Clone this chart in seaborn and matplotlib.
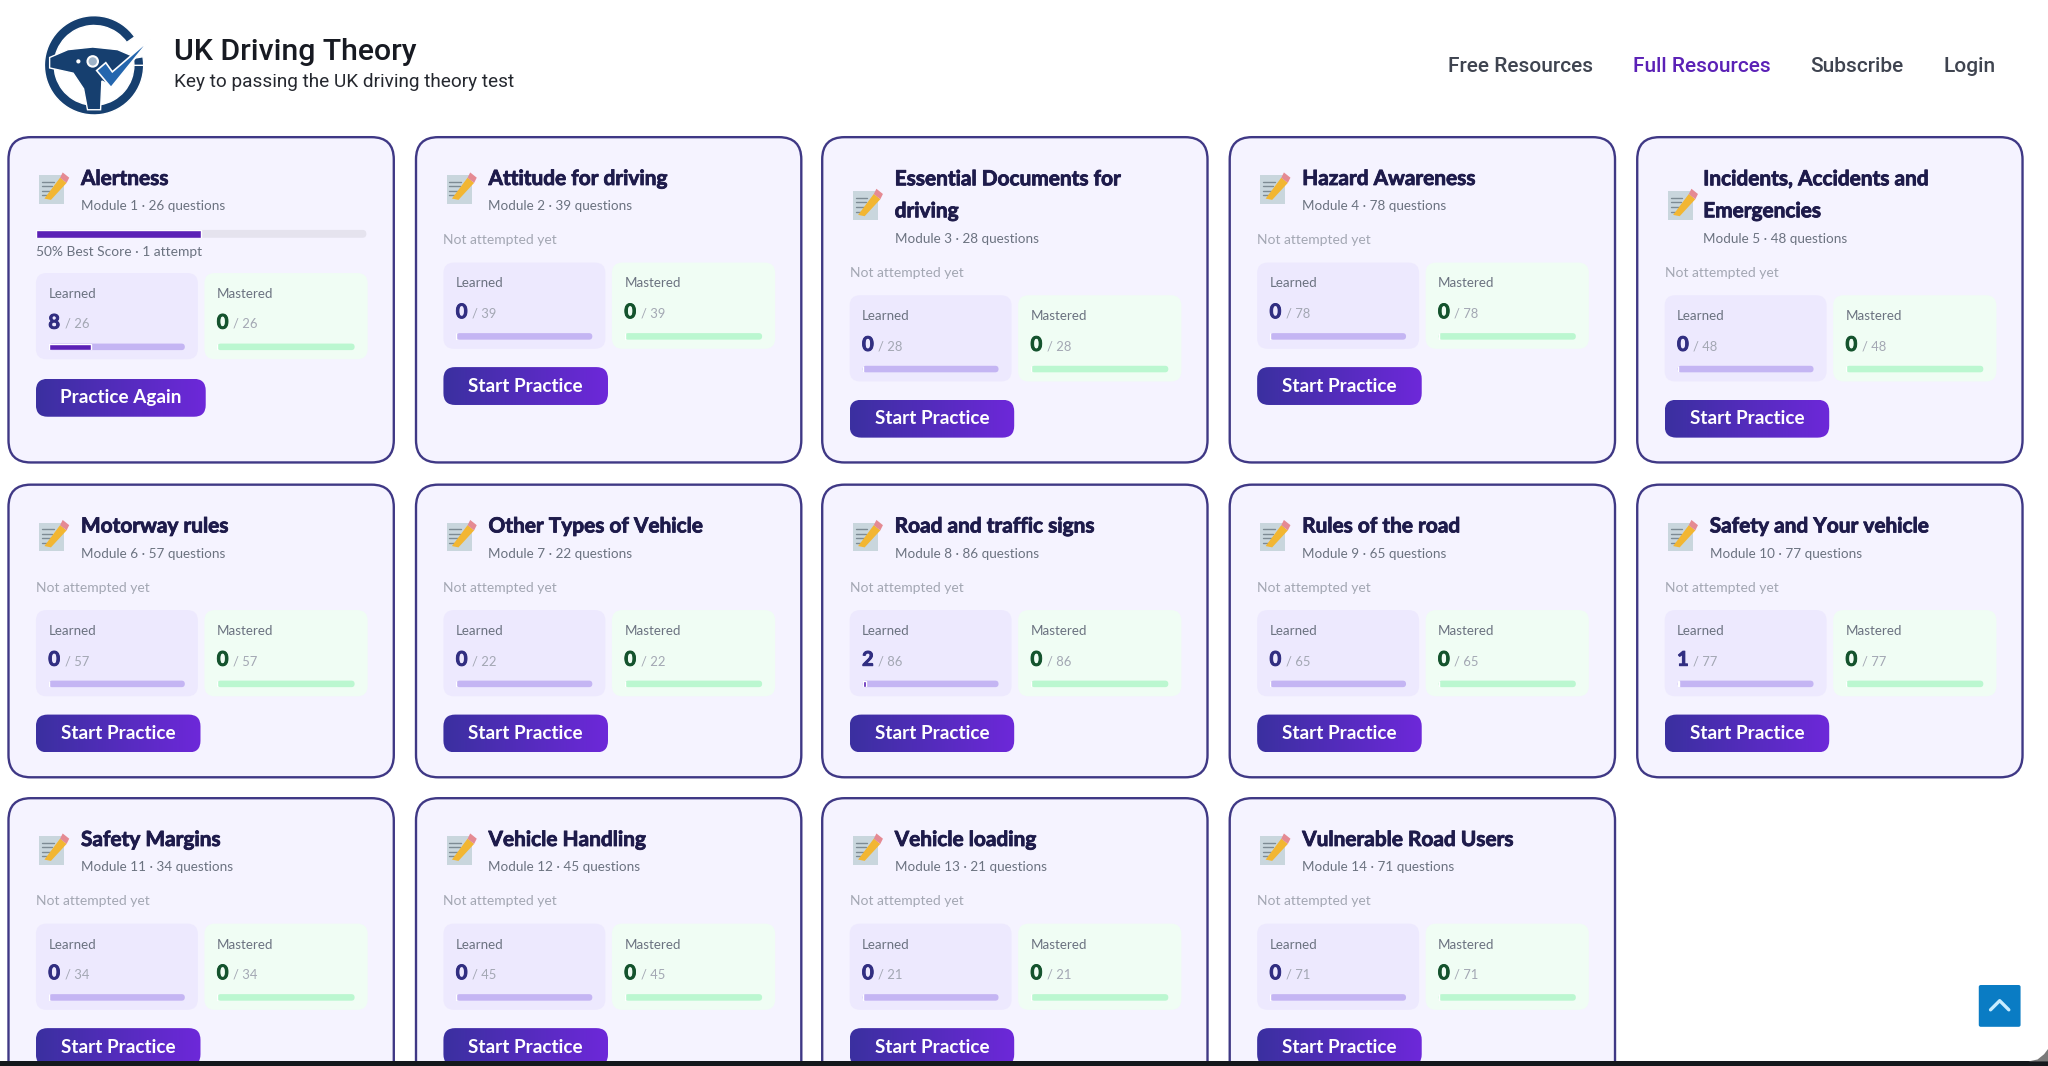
import matplotlib
matplotlib.use("Agg")
import matplotlib.pyplot as plt
import matplotlib.patheffects as pe
import seaborn as sns
import numpy as np
from matplotlib.colors import LinearSegmentedColormap
from matplotlib.patches import FancyBboxPatch, Rectangle, Polygon, Wedge, Circle

# Module data
titles = ["Alertness", "Attitude for driving", "Essential Documents for\ndriving", "Hazard Awareness",
          "Incidents, Accidents and\nEmergencies", "Motorway rules", "Other Types of Vehicle",
          "Road and traffic signs", "Rules of the road", "Safety and Your vehicle",
          "Safety Margins", "Vehicle Handling", "Vehicle loading", "Vulnerable Road Users"]
questions = [26, 39, 28, 78, 48, 57, 22, 86, 65, 77, 34, 45, 21, 71]
learned = [8, 0, 0, 0, 0, 0, 0, 2, 0, 1, 0, 0, 0, 0]
mastered = [0] * 14
best_scores = [50] + [None] * 13
attempts = [1] + [0] * 13
nav_labels = ["Free Resources", "Full Resources", "Subscribe", "Login"]

# Layout is worked out in a 1568x816 grid, then scaled to the figure
W, H = 1568, 816
card_x = [6.5, 318.5, 629.5, 941.5, 1253.5]
row_y = [105, 371, 611]
row_h = [249, 224, 300]

CARD_FONT = "Lato"
HEAD_FONT = "Roboto"
INK = "#1e1b4b"
BORDER = "#3f3885"
GRAD = LinearSegmentedColormap.from_list("btn", ["#3b30a0", "#6d28d9"])

sns.set_theme(style="white")
fig = plt.figure(figsize=(20.48, 10.66), dpi=100, facecolor="white")
ax = fig.add_axes([0, 0, 1, 1])
ax.set_axis_off()


def box(x, y, w, h, r, fc, ec="none", lw=0, z=1):
    p = FancyBboxPatch((x, y), w, h, boxstyle=f"round,pad=0,rounding_size={r}",
                       fc=fc, ec=ec, lw=lw, zorder=z, mutation_aspect=1)
    ax.add_patch(p)
    return p


def heavy(text, width, color):
    # Lato bold is lighter than the page's font, thicken it a little
    text.set_path_effects([pe.withStroke(linewidth=width, foreground=color)])


def fill_bar(x, y, w, h, frac, track, color):
    # rounded track on the page, value bar from seaborn on top of it
    box(x, y, w, h, h / 2, track, z=3)
    bar_ax = fig.add_axes([x / W, 1 - (y + h) / H, w / W, h / H])
    sns.barplot(x=[frac], y=[0], orient="h", color=color, width=1, saturation=1, ax=bar_ax)
    bar_ax.set_xlim(0, 1)
    bar_ax.set_ylim(0.5, -0.5)
    bar_ax.set_axis_off()


def memo_icon(cx, cy):
    ax.add_patch(Rectangle((cx - 10, cy - 10), 19, 22, fc="#c9d6dd", ec="none", zorder=3))
    for k in range(4):
        ax.plot([cx - 8, cx + 1 - k], [cy - 5 + k * 3.5] * 2, color="#7d8b94", lw=1, zorder=4)
    ax.add_patch(Polygon([[cx - 6, cy + 8], [cx + 6, cy - 8], [cx + 11, cy - 4], [cx - 1, cy + 9]],
                         fc="#f2b632", ec="none", zorder=5))
    ax.add_patch(Polygon([[cx + 6, cy - 8], [cx + 8, cy - 12], [cx + 13, cy - 8], [cx + 11, cy - 4]],
                         fc="#e58a93", ec="none", zorder=5))


def card(i, x, y, h):
    title = titles[i]
    q = questions[i]
    n_lines = title.count("\n") + 1
    shift = (n_lines - 1) * 25
    scored = best_scores[i] is not None
    text_x = x + (50.5 if i == 4 else 55.5)

    box(x, y, 295, h, 17, "#f5f3ff", BORDER, 1.7)
    memo_icon(x + 33.5, y + 39 + shift / 2)
    t = ax.text(text_x, y + 32 + shift / 2, title, fontsize=15, fontweight="bold", family=CARD_FONT,
                color=INK, va="center", linespacing=1.75, zorder=5)
    heavy(t, 0.6, INK)
    ax.text(text_x, y + 53 + shift, f"Module {i + 1} · {q} questions", fontsize=9.7, family=CARD_FONT,
            color="#6b7280", va="center", zorder=5)

    if scored:
        fill_bar(x + 21, y + 71, 253, 6, best_scores[i] / 100, "#e5e3ee", "#5b21b6")
        ax.text(x + 21, y + 88, f"{best_scores[i]}% Best Score · {attempts[i]} attempt", fontsize=9.9,
                family=CARD_FONT, color="#6b7280", va="center", zorder=5)
        top = y + 104
    else:
        ax.text(x + 21, y + 79 + shift, "Not attempted yet", fontsize=10, family=CARD_FONT,
                color="#a3a7b3", va="center", zorder=5)
        top = y + 96 + shift

    parts = [("Learned", learned[i], x + 21, 124, "#ede9fe", "#312e81", "#c4b5f3", "#5b21b6"),
             ("Mastered", mastered[i], x + 150, 125, "#f0fdf4", "#14532d", "#bbf7d0", "#16a34a")]
    for label, val, bx, bw, bg, vc, track, fc in parts:
        box(bx, top, bw, 66, 8, bg, z=2)
        ax.text(bx + 9.5, top + 16, label, fontsize=9.6, family=CARD_FONT, color="#6b7280", va="center", zorder=5)
        t = ax.text(bx + 9.5, top + 38, str(val), fontsize=14.5, fontweight="bold", family=CARD_FONT,
                    color=vc, va="center", zorder=5)
        heavy(t, 0.7, vc)
        ax.text(bx + 22, top + 39, f"/ {q}", fontsize=9.4, family=CARD_FONT, color="#a3a7b3", va="center", zorder=5)
        fill_bar(bx + 10, top + 54, bw - 20, 5, val / q, track, fc)

    btn_w = 130 if scored else 126
    btn_y = top + (81 if scored else 80)
    p = box(x + 21, btn_y, btn_w, 29, 9, "none", z=3)
    im = ax.imshow(np.linspace(0, 1, 64).reshape(1, -1), cmap=GRAD, aspect="auto",
                   extent=(x + 21, x + 21 + btn_w, btn_y + 29, btn_y), zorder=3)
    im.set_clip_path(p)
    ax.text(x + 21 + btn_w / 2, btn_y + 14.5, "Practice Again" if scored else "Start Practice", fontsize=13.6,
            fontweight="bold", family=CARD_FONT, color="white", ha="center", va="center", zorder=5)


for idx in range(len(titles)):
    r, c = idx // 5, idx % 5
    card(idx, card_x[c], row_y[r], row_h[r])

# Logo
navy = "#163f6f"
ax.add_patch(Wedge((72, 50), 38, 0, 325, width=7.5, fc=navy, zorder=2))
ax.add_patch(Wedge((72, 50), 38, 350, 360, width=7.5, fc=navy, zorder=2))
ax.add_patch(Polygon([[38, 44], [52, 38], [71, 36], [90, 38], [104, 44], [86, 66], [78, 62], [77, 84], [67, 84],
                      [64, 68], [56, 56], [38, 52]], fc=navy, zorder=2))
ax.add_patch(Circle((60, 47), 1.6, fc="white", ec="none", zorder=3))
ax.add_patch(Circle((71, 47), 4, fc="#9fb4c9", ec="white", lw=1.5, zorder=3))
ax.add_patch(Polygon([[74, 54], [81, 48], [86, 55], [115, 30], [85, 67]],
                     fc="#2466ae", ec="white", lw=1.2, zorder=4))

ax.text(133, 40, "UK Driving Theory", fontsize=21.8, family=HEAD_FONT, fontweight="medium", color="#171a22", va="center")
ax.text(133, 63, "Key to passing the UK driving theory test", fontsize=13.7, family=HEAD_FONT, color="#25282f", va="center")

nav_x = [1109, 1250, 1386, 1488]
nav_col = ["#3f4450", "#5b21b6", "#3f4450", "#3f4450"]
for lab, nx, col in zip(nav_labels, nav_x, nav_col):
    ax.text(nx, 51, lab, fontsize=15, family=HEAD_FONT, fontweight="medium", color=col, va="center")

# Back-to-top button
box(1515, 754, 32, 32, 1.5, "#0a7cc4", z=6)
ax.plot([1524, 1531, 1538], [773, 766, 773], color="#c8ecff", lw=2.4, zorder=7, solid_capstyle="round")

# Bottom edge of the window
ax.add_patch(Rectangle((0, 812.5), W, 4, fc="#14181c", ec="none", zorder=20))
ax.add_patch(Polygon([[1553, 812.5], [1560, 811], [1565, 807], [1568, 803], [1568, 812.5]], fc="#7a7a7a", ec="none", zorder=20))

ax.set_xlim(0, W)
ax.set_ylim(H, 0)

fig.savefig("out.png", dpi=100)
